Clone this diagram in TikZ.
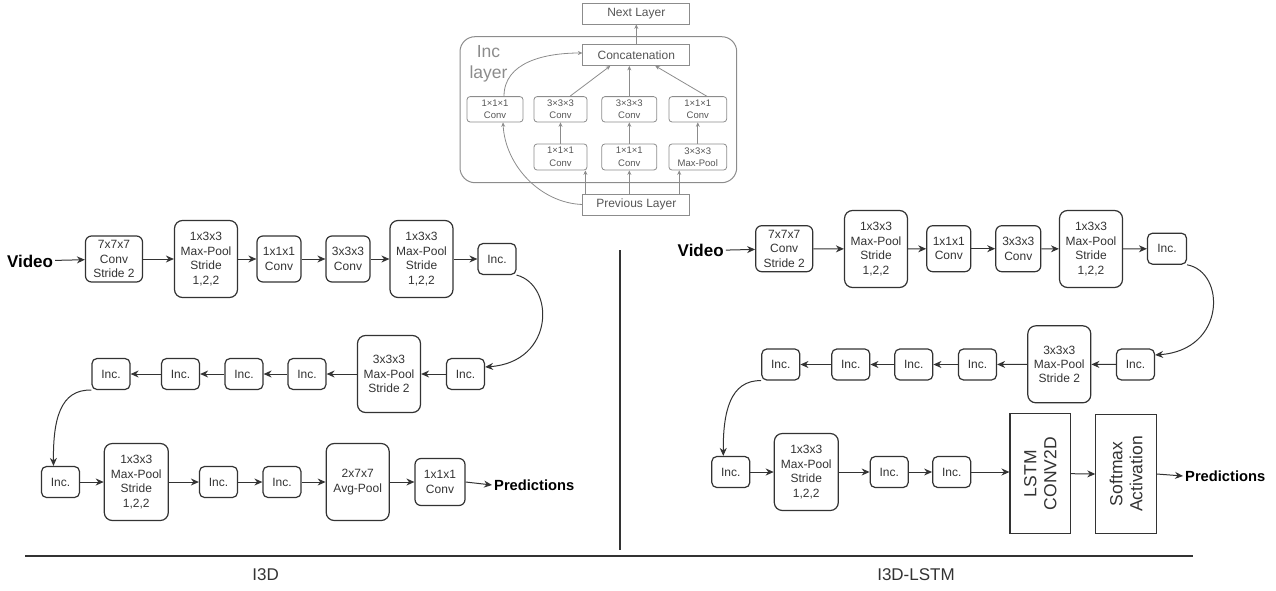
\documentclass[tikz,border=0pt]{standalone}
\usepackage{fontspec}
\setmainfont{Liberation Sans}
\usepackage{tikz}
\usepackage{xcolor}
\usetikzlibrary{arrows.meta,positioning}
\definecolor{boxline}{HTML}{333333}
\definecolor{incgray}{HTML}{8C8C8C}
\definecolor{inctext}{HTML}{555555}
\tikzset{
    box-size/.style 2 args = {minimum width=#1pt, minimum height=#2pt},
    main-box/.style = {draw=boxline, line width=1.2pt, rounded corners=6pt, text=boxline, align=center, inner sep=1pt, font=\fontsize{12}{14.4}\selectfont},
    inc-box/.style = {main-box, rounded corners=5pt, box-size={38}{31}},
    pool-box/.style = {main-box, rounded corners=8pt, box-size={63}{77}},
    conv-box/.style = {main-box, box-size={44}{46}},
    lstm-box/.style = {draw=boxline, line width=1.2pt, rotate=90, align=center, text=boxline, inner sep=1pt, font=\fontsize{17.5}{20}\selectfont, box-size={120}{60.5}},
    flow-text/.style = {inner sep=2pt, font=\bfseries\fontsize{17}{20}\selectfont},
    pred-text/.style = {inner sep=2pt, anchor=west, font=\bfseries\fontsize{14.7}{17}\selectfont},
    flow-arrow/.style = {draw=boxline, line width=1pt, -{Stealth[length=8pt,width=7pt]}},
    section-line/.style = {draw=boxline, line width=2pt},
    section-label/.style = {text=boxline, font=\fontsize{17}{20}\selectfont},
    inc-frame/.style = {draw=incgray, line width=1pt, rounded corners=15pt},
    inc-title/.style = {text=incgray, align=center, inner sep=0pt, font=\fontsize{17.5}{21}\selectfont},
    layer-box/.style = {draw=incgray, line width=0.8pt, text=inctext, inner sep=0pt, box-size={107}{21}, font=\fontsize{12}{14}\selectfont},
    inner-box/.style = {draw=incgray, line width=0.8pt, rounded corners=3pt, text=inctext, align=center, inner sep=0pt, font=\fontsize{9.5}{12.5}\selectfont},
    inner-arrow/.style = {draw=incgray, line width=0.8pt, -{Stealth[length=4.5pt,width=4pt]}},
}
\begin{document}
\begin{tikzpicture}[x=1pt, y=-1pt]
\useasboundingbox (0,0) rectangle (1276,591);

% inception layer
\draw[inc-frame] (460,36.7) rectangle (736.7,182.7);
\node[inc-title] (inctitle) at (488.5,64) {Inc\\layer};
\node[layer-box] (next) at (636.3,13.5) {Next Layer};
\node[layer-box] (concat) at (636.3,55) {Concatenation};
\node[layer-box] (prev) at (636.3,204.5) {Previous Layer};
\node[inner-box, box-size={56}{25.3}] (u1) at (495,109.3) {1×1×1\\Conv};
\node[inner-box, box-size={53}{25.3}] (u2) at (560.5,109.3) {3×3×3\\Conv};
\node[inner-box, box-size={55}{25.3}] (u3) at (629.3,109.3) {3×3×3\\Conv};
\node[inner-box, box-size={57.7}{25.3}] (u4) at (697.8,109.3) {1×1×1\\Conv};
\node[inner-box, box-size={53}{26}] (v2) at (560.5,157) {1×1×1\\Conv};
\node[inner-box, box-size={55}{26}] (v3) at (629.3,157) {1×1×1\\Conv};
\node[inner-box, box-size={57.7}{26}] (v4) at (697.8,157) {3×3×3\\Max-Pool};

\draw[inner-arrow] ([xshift=3pt]prev.north west) -- ([xshift=3pt]prev.north west |- v2.south);
\draw[inner-arrow] (v3.south |- prev.north) -- (v3.south);
\draw[inner-arrow] ([xshift=-11pt]prev.north east) -- ([xshift=-11pt]prev.north east |- v4.south);
\draw[inner-arrow] (v2.north) -- (u2.south);
\draw[inner-arrow] (v3.north) -- (u3.south);
\draw[inner-arrow] (v4.north) -- (u4.south);
\draw[inner-arrow] ([xshift=9.5pt]u2.north) -- ([xshift=-26pt]concat.south);
\draw[inner-arrow] (u3.north) -- (u3.north |- concat.south);
\draw[inner-arrow] ([xshift=9pt]u4.north) -- ([xshift=19pt]concat.south);
\draw[inner-arrow] (prev.west) .. controls (540,203) and (505,165) .. ([xshift=8pt]u1.south);
\draw[inner-arrow] ([xshift=9pt]u1.north) .. controls (504,62) and (545,53) .. ([yshift=2pt]concat.west);
\draw[inner-arrow] (concat.north) -- (next.south);

% I3D
\node[flow-text] (videoa) at (30,261) {Video};
\node[main-box, box-size={57}{46}] (c1) at (114,259) {7x7x7\\Conv\\Stride 2};
\node[pool-box] (p1) at (206,259) {1x3x3\\Max-Pool\\Stride\\1,2,2};
\node[conv-box] (c2) at (279,259) {1x1x1\\Conv};
\node[conv-box] (c3) at (348,259) {3x3x3\\Conv};
\node[pool-box] (p2) at (421.5,259) {1x3x3\\Max-Pool\\Stride\\1,2,2};
\node[inc-box] (i1) at (497,259) {Inc.};

\node[inc-box] (i2) at (465.5,374) {Inc.};
\node[pool-box] (p3) at (389,374) {3x3x3\\Max-Pool\\Stride 2};
\node[inc-box] (i3) at (307,374) {Inc.};
\node[inc-box] (i4) at (244,374) {Inc.};
\node[inc-box] (i5) at (180.5,374) {Inc.};
\node[inc-box] (i6) at (111,374) {Inc.};

\node[inc-box] (i7) at (60.5,482) {Inc.};
\node[pool-box, box-size={64}{77}] (p4) at (136.3,482) {1x3x3\\Max-Pool\\Stride\\1,2,2};
\node[inc-box] (i8) at (218.5,482) {Inc.};
\node[inc-box] (i9) at (282,482) {Inc.};
\node[pool-box] (ap) at (357.7,482) {2x7x7\\Avg-Pool};
\node[main-box, box-size={50}{47}] (c4) at (440,482) {1x1x1\\Conv};
\node[pred-text] (preda) at (492,485) {Predictions};

\draw[flow-arrow] (videoa) -- (c1);
\draw[flow-arrow] (c1) -- (p1);
\draw[flow-arrow] (p1) -- (c2);
\draw[flow-arrow] (c2) -- (c3);
\draw[flow-arrow] (c3) -- (p2);
\draw[flow-arrow] (p2) -- (i1);
\draw[flow-arrow] (i1.south east) .. controls (555,285) and (555,362) .. ([yshift=7pt]i2.east);
\draw[flow-arrow] (i2) -- (p3);
\draw[flow-arrow] (p3) -- (i3);
\draw[flow-arrow] (i3) -- (i4);
\draw[flow-arrow] (i4) -- (i5);
\draw[flow-arrow] (i5) -- (i6);
\draw[flow-arrow] (i6.south west) .. controls (60,389) and (53,420) .. ([xshift=-7pt]i7.north);
\draw[flow-arrow] (i7) -- (p4);
\draw[flow-arrow] (p4) -- (i8);
\draw[flow-arrow] (i8) -- (i9);
\draw[flow-arrow] (i9) -- (ap);
\draw[flow-arrow] (ap) -- (c4);
\draw[flow-arrow] (c4.east) -- (preda.west);

% I3D-LSTM
\node[flow-text] (videob) at (700.7,250.7) {Video};
\node[main-box, box-size={57}{46}] (d1) at (784.2,248.7) {7x7x7\\Conv\\Stride 2};
\node[pool-box] (q1) at (876,249) {1x3x3\\Max-Pool\\Stride\\1,2,2};
\node[conv-box] (d2) at (948.8,248.7) {1x1x1\\Conv};
\node[conv-box, box-size={45}{46}] (d3) at (1018.3,248.7) {3x3x3\\Conv};
\node[pool-box] (q2) at (1091,249) {1x3x3\\Max-Pool\\Stride\\1,2,2};
\node[inc-box, box-size={39}{31}] (j1) at (1167,248.7) {Inc.};

\node[inc-box] (j2) at (1135.5,364.5) {Inc.};
\node[pool-box] (q3) at (1059.3,364.3) {3x3x3\\Max-Pool\\Stride 2};
\node[inc-box] (j3) at (977.5,364.5) {Inc.};
\node[inc-box] (j4) at (913.8,364.5) {Inc.};
\node[inc-box] (j5) at (850.8,364.5) {Inc.};
\node[inc-box] (j6) at (780.8,364.5) {Inc.};

\node[inc-box] (j7) at (730.8,472) {Inc.};
\node[pool-box, box-size={64}{77}] (q4) at (806.3,472) {1x3x3\\Max-Pool\\Stride\\1,2,2};
\node[inc-box] (j8) at (889.2,472) {Inc.};
\node[inc-box] (j9) at (951.7,472) {Inc.};
\node[lstm-box] (lstm) at (1040.3,473.7) {LSTM\\CONV2D};
\node[lstm-box, box-size={119.7}{60.3}] (soft) at (1126,474) {Softmax\\Activation};
\node[pred-text] (predb) at (1183,476) {Predictions};

\draw[flow-arrow] (videob) -- (d1);
\draw[flow-arrow] (d1) -- (q1);
\draw[flow-arrow] (q1) -- (d2);
\draw[flow-arrow] (d2) -- (d3);
\draw[flow-arrow] (d3) -- (q2);
\draw[flow-arrow] (q2) -- (j1);
\draw[flow-arrow] (j1.south east) .. controls (1226,272) and (1226,350) .. ([yshift=9.5pt]j2.east);
\draw[flow-arrow] (j2) -- (q3);
\draw[flow-arrow] (q3) -- (j3);
\draw[flow-arrow] (j3) -- (j4);
\draw[flow-arrow] (j4) -- (j5);
\draw[flow-arrow] (j5) -- (j6);
\draw[flow-arrow] (j6.south west) .. controls (730,380) and (723,412) .. ([xshift=-7.5pt]j7.north);
\draw[flow-arrow] (j7) -- (q4);
\draw[flow-arrow] (q4) -- (j8);
\draw[flow-arrow] (j8) -- (j9);
\draw[flow-arrow] (j9.east) -- (j9.east -| lstm.north);
\draw[flow-arrow] (lstm.south) -- (soft.north);
\draw[flow-arrow] (soft.south) -- (predb.west);

% separators
\draw[section-line] (620,250) -- (620,550);
\draw[section-line] (25,555.5) -- (1192.7,555.5);
\node[section-label] (labela) at (265.7,575) {I3D};
\node[section-label] (labelb) at (916,575) {I3D-LSTM};
\end{tikzpicture}
\end{document}
